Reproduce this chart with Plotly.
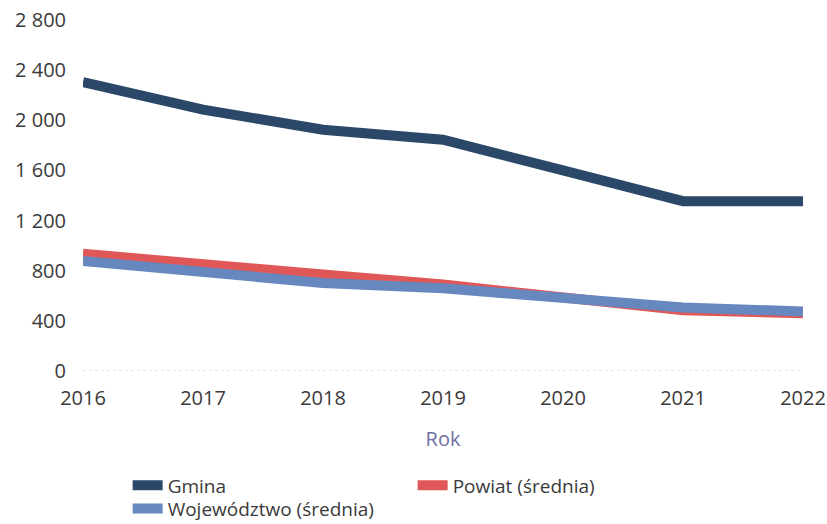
import plotly.graph_objects as go

years = [2016, 2017, 2018, 2019, 2020, 2021, 2022]
gmina = [2305, 2085, 1925, 1845, 1600, 1355, 1355]
powiat = [935, 845, 770, 690, 580, 485, 460]
wojewodztwo = [878, 782, 702, 660, 578, 507, 475]

series_names = ["Gmina", "Powiat (średnia)", "Województwo (średnia)"]
colors = ["#2b4868", "#e05757", "#6788bf"]
legend_ids = ["legend", "legend", "legend2"]
y_ticks = [0, 400, 800, 1200, 1600, 2000, 2400, 2800]
x_title = "Rok"

fig = go.Figure()
for name, vals, col, lg in zip(series_names, [gmina, powiat, wojewodztwo], colors, legend_ids):
    fig.add_trace(go.Scatter(x=years, y=vals, name=name, mode="lines", legend=lg,
                             line=dict(color=col, width=10)))

fig.add_shape(type="line", xref="paper", yref="y", x0=0, x1=1, y0=0, y1=0,
              line=dict(color="#c9cbdc", width=1, dash="dot"), layer="below")

legend_style = dict(orientation="h", xanchor="left", yanchor="top",
                    entrywidth=240, font=dict(size=19, color="#3a3a3a"),
                    itemwidth=30, bgcolor="rgba(0,0,0,0)")

fig.update_layout(
    width=827, height=524,
    margin=dict(l=83, r=24, t=20, b=153, autoexpand=False),
    paper_bgcolor="white", plot_bgcolor="white",
    font=dict(family="Open Sans", size=20, color="#3a3a3a"),
    separators=", ",
    showlegend=True,
    legend=dict(x=0.062, y=-0.272, **legend_style),
    legend2=dict(x=0.062, y=-0.338, **legend_style),
    xaxis=dict(range=[2016, 2022], tickvals=years, ticktext=[str(y) for y in years],
               showgrid=False, zeroline=False, showline=False, ticks="",
               ticklabelstandoff=13, automargin=False, ticklabeloverflow="allow",
               title=dict(text=x_title, font=dict(size=20, color="#6f6fa6"), standoff=21)),
    yaxis=dict(range=[0, 2800], tickvals=y_ticks, tickformat=",d",
               showgrid=False, zeroline=False, showline=False, ticks="",
               ticklabelstandoff=16, automargin=False, ticklabeloverflow="allow"),
)

# remove the browser's default 8px body margin so the figure fills the window exactly
fig.write_html("out.html", config={"displayModeBar": False},
               post_script="document.body.style.margin='0';document.body.style.overflow='hidden';")
